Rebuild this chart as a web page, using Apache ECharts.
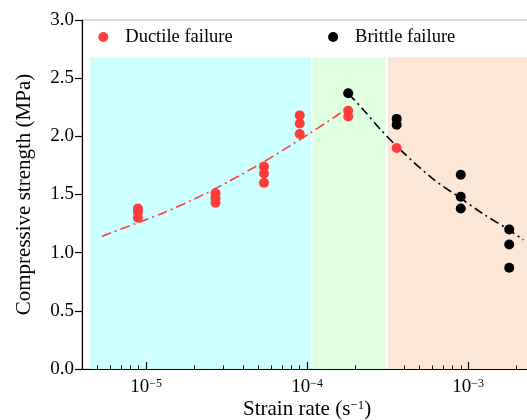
<!DOCTYPE html>
<html><head><meta charset="utf-8">
<script src="https://cdn.jsdelivr.net/npm/echarts@6/dist/echarts.min.js"></script>
<style>html,body{margin:0;padding:0;background:#fff}#c{width:527px;height:420px}</style>
</head><body><div id="c"></div>
<script>
// ---- data ----
const ductileX = [8.9e-6, 8.9e-6, 8.9e-6, 2.7e-5, 2.7e-5, 2.7e-5, 5.4e-5, 5.4e-5, 5.4e-5, 9.0e-5, 9.0e-5, 9.0e-5, 1.8e-4, 1.8e-4, 3.6e-4];
const ductileY = [1.38, 1.35, 1.30, 1.51, 1.47, 1.43, 1.74, 1.68, 1.60, 2.18, 2.11, 2.02, 2.22, 2.17, 1.90];
const brittleX = [1.8e-4, 3.6e-4, 3.6e-4, 9.0e-4, 9.0e-4, 9.0e-4, 1.8e-3, 1.8e-3, 1.8e-3];
const brittleY = [2.37, 2.15, 2.10, 1.67, 1.48, 1.38, 1.20, 1.07, 0.87];
const ductileFitX = [5.3e-6, 9.4e-6, 1.32e-5, 2.28e-5, 3.34e-5, 5.37e-5, 8.07e-5, 1.05e-4, 1.57e-4, 1.73e-4];
const ductileFitY = [1.14, 1.27, 1.35, 1.50, 1.62, 1.78, 1.93, 2.03, 2.19, 2.24];
const brittleFitX = [1.81e-4, 2.2e-4, 2.85e-4, 3.89e-4, 6.1e-4, 8.95e-4, 1.25e-3, 1.75e-3, 2.2e-3];
const brittleFitY = [2.365, 2.24, 2.06, 1.87, 1.63, 1.47, 1.33, 1.205, 1.11];
const regionBounds = [[4.5e-6, 1.055e-4], [1.08e-4, 3.07e-4], [3.17e-4, 3e-3]];
const regionTop = 2.68;
const majorTicks = [1e-5, 1e-4, 1e-3];
const majorExp = ['−5', '−4', '−3'];
const minorTicks = [5e-6, 6e-6, 7e-6, 8e-6, 9e-6, 2e-5, 3e-5, 4e-5, 5e-5, 6e-5, 7e-5, 8e-5, 9e-5,
                    2e-4, 4e-4, 5e-4, 6e-4, 7e-4, 8e-4, 9e-4, 2e-3];

// ---- styles ----
const FONT = 'Liberation Serif';
const RED = '#FF3D3D';
const regionColors = ['#CCFFFF', '#E0FFE0', '#FCE6D6'];
const xMin = 4e-6, xMax = 2.5e-3;

const zip = (a, b) => a.map((v, i) => [v, b[i]]);

const chart = echarts.init(document.getElementById('c'), null, {renderer: 'canvas'});
chart.setOption({
  animation: false,
  backgroundColor: '#fff',
  textStyle: {fontFamily: FONT},
  grid: {left: 82, right: -5.2, top: 20, bottom: 51, show: true, borderColor: '#bbb', borderWidth: 1,
         backgroundColor: 'transparent', containLabel: false, outerBoundsMode: 'none'},
  legend: [
    {data: ['Ductile failure'], left: 98.3, top: 27.5, padding: 0, icon: 'circle', itemWidth: 34, itemHeight: 10,
     textStyle: {fontFamily: FONT, fontSize: 18.5, color: '#000'}},
    {data: ['Brittle failure'], left: 328.1, top: 27.5, padding: 0, icon: 'circle', itemWidth: 34, itemHeight: 10,
     textStyle: {fontFamily: FONT, fontSize: 18.5, color: '#000'}}
  ],
  xAxis: [{
    type: 'log', min: xMin, max: xMax, z: 3,
    axisLine: {show: true, lineStyle: {color: '#000', width: 1.2}},
    axisTick: {show: true, inside: true, length: 7, customValues: majorTicks, lineStyle: {color: '#000', width: 1.2}},
    minorTick: {show: false},
    splitLine: {show: false},
    axisLabel: {
      customValues: majorTicks, margin: 9, color: '#000',
      formatter: function (v) {
        const i = majorTicks.findIndex(t => Math.abs(Math.log10(t) - Math.log10(v)) < 1e-6);
        return i >= 0 ? '{b|10}{s|' + majorExp[i] + '}' : '';
      },
      rich: {
        b: {fontFamily: FONT, fontSize: 19, lineHeight: 19, color: '#000', verticalAlign: 'bottom'},
        s: {fontFamily: FONT, fontSize: 12, lineHeight: 12, color: '#000', verticalAlign: 'top'}
      }
    },
    name: '{a|Strain rate (s}{s|−1}{a|)}', nameLocation: 'middle', nameGap: 30, nameMoveOverlap: false,
    nameTextStyle: {
      rich: {
        a: {fontFamily: FONT, fontSize: 21, lineHeight: 21, color: '#000', verticalAlign: 'bottom'},
        s: {fontFamily: FONT, fontSize: 13, lineHeight: 13, color: '#000', verticalAlign: 'top'}
      }
    }
  }, {
    type: 'log', min: xMin, max: xMax, z: 3, position: 'bottom',
    axisLine: {show: false},
    axisTick: {show: true, inside: true, length: 3.5, customValues: minorTicks, lineStyle: {color: '#000', width: 1}},
    axisLabel: {show: false},
    splitLine: {show: false}
  }],
  yAxis: {
    type: 'value', min: 0, max: 3, interval: 0.5, z: 3,
    axisLine: {show: true, lineStyle: {color: '#000', width: 1.2}},
    axisTick: {show: true, inside: false, length: 7, lineStyle: {color: '#000', width: 1.2}},
    splitLine: {show: false},
    axisLabel: {margin: 8, fontFamily: FONT, fontSize: 19, color: '#000', formatter: v => v.toFixed(1)},
    name: 'Compressive strength (MPa)', nameLocation: 'middle', nameGap: 47,
    nameTextStyle: {fontFamily: FONT, fontSize: 21, color: '#000'}
  },
  series: [
    {
      name: 'Ductile fit', type: 'line', xAxisIndex: 0, smooth: 0.3, symbol: 'none', z: 2,
      data: zip(ductileFitX, ductileFitY),
      lineStyle: {color: RED, width: 1.6, type: [10, 4, 2, 4]},
      markArea: {
        silent: true,
        data: regionBounds.map((r, i) => [
          {xAxis: r[0], yAxis: 0, itemStyle: {color: regionColors[i], opacity: 1}},
          {xAxis: r[1], yAxis: regionTop}
        ])
      }
    },
    {
      name: 'Brittle fit', type: 'line', xAxisIndex: 0, smooth: 0.3, symbol: 'none', z: 2,
      data: zip(brittleFitX, brittleFitY),
      lineStyle: {color: '#000', width: 1.6, type: [9, 4, 2, 4]}
    },
    {
      name: 'Ductile failure', type: 'scatter', xAxisIndex: 0, symbol: 'circle', symbolSize: 10, z: 4,
      itemStyle: {color: RED, opacity: 1},
      data: zip(ductileX, ductileY)
    },
    {
      name: 'Brittle failure', type: 'scatter', xAxisIndex: 0, symbol: 'circle', symbolSize: 10, z: 4,
      itemStyle: {color: '#000', opacity: 1},
      data: zip(brittleX, brittleY)
    }
  ]
});
</script>
</body></html>
